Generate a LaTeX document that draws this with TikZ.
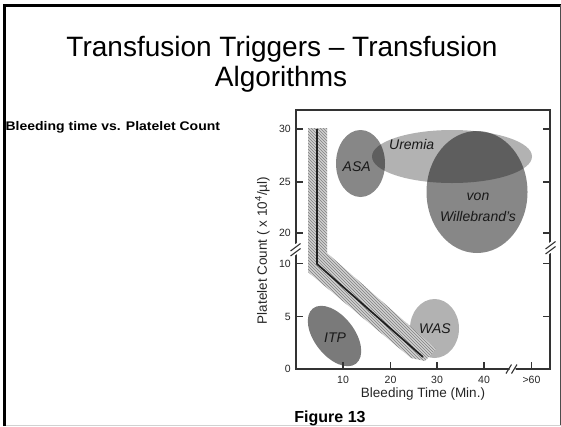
\documentclass[tikz,border=0pt]{standalone}
\usepackage{fontspec}
\setmainfont{Liberation Sans}
\usetikzlibrary{patterns}
\begin{document}
\begin{tikzpicture}[x=1pt,y=-1pt,
  axline/.style={line width=1.3pt, draw=black!80},
  tickmark/.style={line width=1.1pt, draw=black!80},
  ticklab/.style={font=\fontsize{10.5}{10.5}\selectfont, text=black!85, inner sep=0pt},
  axlab/.style={font=\fontsize{13.5}{14}\selectfont, text=black!85, inner sep=0pt},
  blob/.style={fill=black, fill opacity=#1},
  blobtext/.style={font=\fontsize{14}{14}\selectfont\itshape, text=black!90, inner sep=0pt},
  brk/.style={line width=1.1pt, draw=black!80}]
\useasboundingbox (0,0) rectangle (561,426);
\fill[white] (0,0) rectangle (561,426);
% slide frame
\draw[line width=2.6pt] (4.6,426) -- (4.6,5.6) -- (561,5.6);
\draw[line width=0.8pt, black!70] (560.4,5) -- (560.4,426);
\draw[line width=1pt, black!18] (6,425.3) -- (561,425.3);
% title
\node[anchor=base, font=\fontsize{28}{29}\selectfont, inner sep=0pt] (t1) at (282,56) {Transfusion Triggers – Transfusion};
\node[anchor=base, font=\fontsize{28}{29}\selectfont, inner sep=0pt] (t2) at (281,86) {Algorithms};
\node[anchor=base west, font=\fontsize{12.5}{13}\selectfont\bfseries, inner sep=0pt] (sub) at (5.4,130) {\scalebox{1.12}[1]{Bleeding time vs. Platelet Count}};
% blobs
\fill[blob=0.30] (452,156.5) ellipse [x radius=80, y radius=26.5];
\fill[blob=0.47] (360.5,163.5) ellipse [x radius=24.5, y radius=33.5];
\fill[blob=0.47] (477,192) ellipse [x radius=50.5, y radius=61];
\fill[blob=0.52, rotate around={-52:(334.5,336)}] (334.5,336) ellipse [x radius=35, y radius=20];
\fill[blob=0.30] (434.5,328.5) ellipse [x radius=24.5, y radius=29.5];
\node[blobtext] (asa) at (356.7,166.7) {ASA};
\node[blobtext] (ure) at (411.7,144.3) {Uremia};
\node[blobtext] (von) at (478,197) {von};
\node[blobtext] (wil) at (478,216) {Willebrand's};
\node[blobtext] (itp) at (335,337.3) {ITP};
\node[blobtext] (was) at (435,328.3) {WAS};
% hatched band
\path[pattern=north west lines, pattern color=black!50, preaction={fill=black!18}]
  (308,128) -- (327,128) -- (327,253) -- (436,349) -- (425,361) -- (411,358) -- (308,272) -- cycle;
% threshold line
\draw[line width=1.7pt, black!88] (317,129) -- (317,264) -- (423,357);
% axes box
\draw[axline] (296,110) -- (550,110) -- (550,369) -- (296,369) -- cycle;
% y ticks
\foreach \yy/\lab in {129/30,182/25,233/20,263.5/10,316.5/5} {
  \draw[tickmark] (295,\yy) -- (303,\yy);
  \draw[tickmark] (550,\yy) -- (543,\yy);
  \node[ticklab, anchor=east] at (291,\yy) {\lab};
}
\node[ticklab, anchor=east] (y0) at (291,369) {0};
% x ticks
\foreach \xx/\lab in {343/10,390.5/20,437/30,484/40,531.5/{>60}} {
  \draw[tickmark] (\xx,369) -- (\xx,361.5);
  \node[ticklab, anchor=base] at (\xx,383.5) {\lab};
}
% axis breaks
\fill[white] (291,247) -- (300,241) -- (300,252) -- (291,258) -- cycle;
\draw[brk] (290.5,251) -- (300.5,243.5);
\draw[brk] (290.5,256) -- (300.5,248.5);
\fill[white] (546,245) -- (555,239) -- (555,250) -- (546,256) -- cycle;
\draw[brk] (545.5,249) -- (555.5,241.5);
\draw[brk] (545.5,254) -- (555.5,246.5);
\fill[white] (508,364) -- (514,364) -- (517,374) -- (511,374) -- cycle;
\draw[brk] (506,373.5) -- (511.5,364.5);
\draw[brk] (511.5,373.5) -- (517,364.5);
% axis labels
\node[axlab, anchor=base] (xl) at (423,397.5) {Bleeding Time (Min.)};
\node[axlab, rotate=90] (yl) at (262.5,250.5) {Platelet Count ( x 10\textsuperscript{4}/µl)};
\node[anchor=base, font=\fontsize{16}{16}\selectfont\bfseries, inner sep=0pt] (fig) at (330,422) {Figure 13};
\end{tikzpicture}
\end{document}
